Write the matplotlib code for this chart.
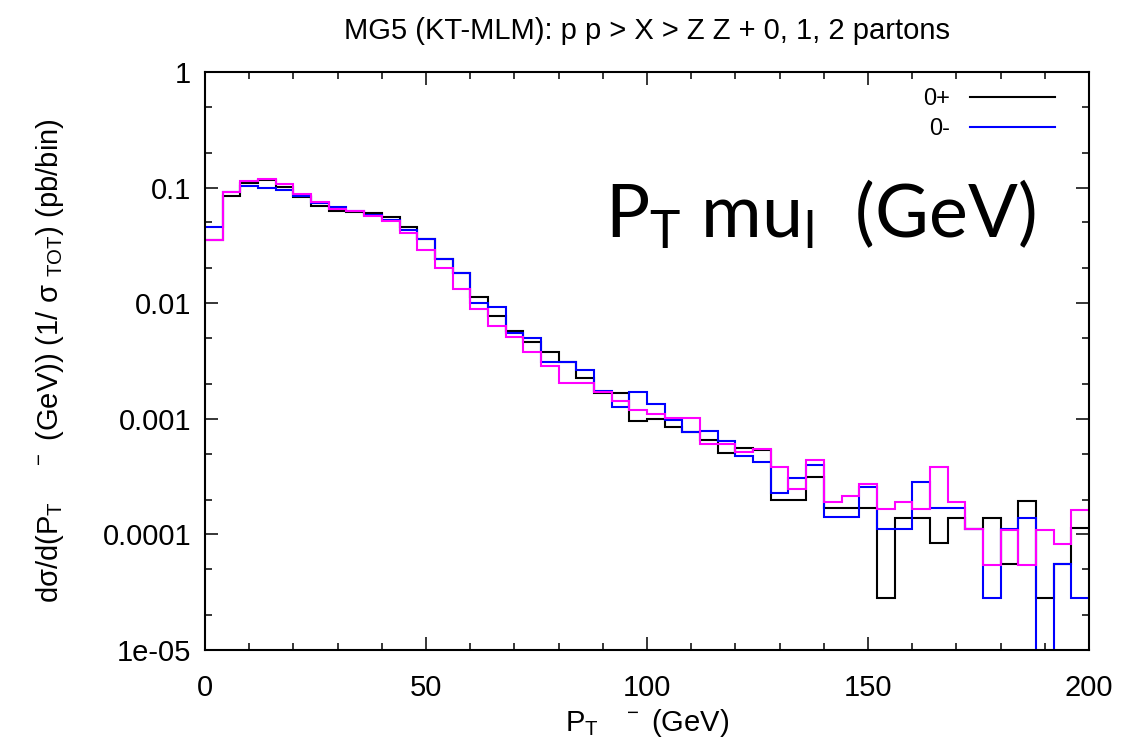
import numpy as np
import matplotlib
matplotlib.use('Agg')
import matplotlib.pyplot as plt
from matplotlib.ticker import FixedLocator, FixedFormatter, MultipleLocator, LogLocator, NullFormatter

plt.rcParams['font.family'] = ['Liberation Sans Narrow', 'Liberation Sans', 'DejaVu Sans']
plt.rcParams['mathtext.default'] = 'regular'

# 50 bins of 4 GeV between 0 and 200
bin_edges = np.linspace(0, 200, 51)

# 0+ (black)
dist_0p = [0.0352, 0.0851, 0.110, 0.116, 0.102, 0.0824, 0.0689, 0.0631, 0.0611, 0.0605,
           0.0553, 0.0454, 0.0359, 0.0240, 0.0181, 0.01125, 0.00775, 0.00578, 0.00465, 0.00376,
           0.00308, 0.00227, 0.00166, 0.00166, 0.000963, 0.000996, 0.000855, 0.000773, 0.000656, 0.000509,
           0.000562, 0.000537, 0.000198, 0.000198, 0.000312, 0.000168, 0.000168, 0.000168, 2.8e-05, 0.00014,
           0.00014, 8.5e-05, 0.00014, 0.000111, 0.00014, 5.5e-05, 0.000196, 2.8e-05, 5.5e-05, 0.000113]
# 0- (blue)
dist_0m = [0.0454, 0.0911, 0.1026, 0.0998, 0.0959, 0.0846, 0.0731, 0.0684, 0.0624, 0.0583,
           0.0524, 0.0430, 0.0359, 0.0240, 0.0181, 0.00998, 0.00933, 0.00556, 0.00503, 0.00308,
           0.00308, 0.00264, 0.00175, 0.00126, 0.00172, 0.00134, 0.000976, 0.000773, 0.000789, 0.000647,
           0.000480, 0.000425, 0.000227, 0.000309, 0.000398, 0.000141, 0.000141, 0.000256, 0.000111, 0.000111,
           0.000282, 0.000168, 0.000168, 0.000111, 2.8e-05, 0.000111, 0.00014, 5e-06, 5.5e-05, 2.8e-05]
# third sample (magenta), legend entry hidden behind the label
dist_mix = [0.0352, 0.0911, 0.1133, 0.1187, 0.1074, 0.0875, 0.0755, 0.0657, 0.0631, 0.0568,
            0.0511, 0.0402, 0.0289, 0.0203, 0.01327, 0.00886, 0.00635, 0.00507, 0.00380, 0.00288,
            0.00205, 0.00203, 0.00169, 0.00143, 0.00119, 0.00109, 0.00102, 0.00102, 0.000605, 0.000605,
            0.000519, 0.000548, 0.000385, 0.000247, 0.00044, 0.000192, 0.000216, 0.000273, 0.000165, 0.000192,
            0.000165, 0.000385, 0.000192, 0.000111, 5.44e-05, 0.000109, 5.44e-05, 0.000109, 8.26e-05, 0.000163]

labels = ['0+', '0-', '0\u00b1']
colors = ['black', '#0000ff', '#ff00ff']

xticks = [0, 50, 100, 150, 200]
yticks = [1, 0.1, 0.01, 0.001, 0.0001, 1e-05]
ytick_labels = ['1', '0.1', '0.01', '0.001', '0.0001', '1e-05']

fig = plt.figure(figsize=(11.24, 7.41), dpi=100)
ax = fig.add_axes([0.1824, 0.1228, 0.7865, 0.780])

for vals, c, lab in zip([dist_0p, dist_0m, dist_mix], colors, labels):
    ax.stairs(vals, bin_edges, baseline=None, color=c, lw=1.5, label=lab)

ax.set_yscale('log')
ax.set_xlim(0, 200)
ax.set_ylim(1e-05, 1)

ax.xaxis.set_major_locator(FixedLocator(xticks))
ax.xaxis.set_minor_locator(MultipleLocator(10))
ax.yaxis.set_major_locator(FixedLocator(yticks))
ax.yaxis.set_major_formatter(FixedFormatter(ytick_labels))
ax.yaxis.set_minor_locator(LogLocator(base=10, subs=(2.0, 5.0)))
ax.yaxis.set_minor_formatter(NullFormatter())

ax.tick_params(which='both', direction='in', top=True, right=True, labelsize=21, width=1.1)
ax.tick_params(which='major', length=9.5)
ax.tick_params(which='minor', length=5)
ax.tick_params(axis='x', pad=17)
ax.tick_params(axis='y', pad=10)
for s in ax.spines.values():
    s.set_linewidth(1.5)

ax.set_title('MG5 (KT-MLM): p p > X > Z Z + 0, 1, 2 partons', fontsize=21, pad=24)
ax.set_xlabel('P$_T$   $^-$ (GeV)', fontsize=21, labelpad=4)
ax.set_ylabel('d\u03c3/d(P$_T$    $^-$ (GeV)) (1/ \u03c3 $_{TOT}$) (pb/bin)', fontsize=21, labelpad=26)

leg = ax.legend(loc='upper right', bbox_to_anchor=(0.9615, 0.972), markerfirst=False, frameon=False,
                handlelength=3.6, handletextpad=0.85, fontsize=17, labelspacing=0.33,
                borderaxespad=0, borderpad=0)
leg.set_zorder(5)

ax.text(0.452, 0.713, 'P$_T$ mu$_l$  (GeV)', transform=ax.transAxes, fontsize=53,
        family=['Lato', 'DejaVu Sans'], va='baseline', ha='left', zorder=6,
        bbox=dict(facecolor='white', edgecolor='none', pad=22))

fig.savefig('out.png', dpi=100)
